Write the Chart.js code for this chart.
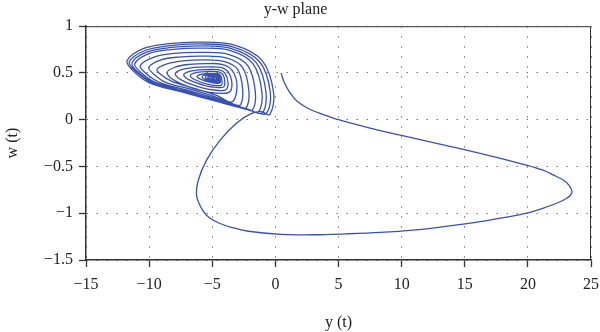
<!DOCTYPE html>
<html>
<head>
<meta charset="utf-8">
<script src="https://cdn.jsdelivr.net/npm/chart.js@4.4.1/dist/chart.umd.min.js"></script>
<style>
  html, body { margin: 0; padding: 0; background: #fff; }
  #wrap { width: 600px; height: 332px; }
</style>
</head>
<body>
<div id="wrap"><canvas id="myChart" width="600" height="332"></canvas></div>
<script>
// axis ticks
const yTicks = [-15, -10, -5, 0, 5, 10, 15, 20, 25];
const wTicks = [-1.5, -1, -0.5, 0, 0.5, 1];

// transient part of the trajectory
const transY = [0.45, 0.7, 1.1, 1.7, 2.6, 3.8, 5.0, 7.5, 9.9, 12.5, 15.15, 17.6, 19.9, 21.2, 22.0, 22.8, 23.25, 23.5, 23.35, 23.07, 22.5, 21.75, 19.9, 16.2, 13.5, 10.93, 8.3, 5.65, 3.0, 0.5, -2.27, -3.5, -4.39, -5.2, -5.71, -6.23, -6.1, -5.44, -4.39, -3.06, -1.88, -1.1];
const transW = [0.50, 0.40, 0.30, 0.20, 0.12, 0.055, 0.0, -0.09, -0.165, -0.245, -0.325, -0.405, -0.485, -0.54, -0.59, -0.645, -0.70, -0.77, -0.81, -0.84, -0.88, -0.92, -1.0, -1.09, -1.14, -1.18, -1.205, -1.22, -1.23, -1.225, -1.19, -1.15, -1.11, -1.05, -0.98, -0.82, -0.645, -0.43, -0.22, -0.035, 0.067, 0.085];

// spiral towards the focus, loop by loop
const spiralY = [
  -0.45, -0.13, -1.03, -3.29, -6.0, -8.63, -10.47, -11.75, -11.25, -9.98, -7.49, -4.65, -1.98,
  -0.74, -0.40, -1.25, -3.38, -5.97, -8.53, -10.32, -11.57, -11.09, -9.84, -7.42, -4.65, -2.14,
  -1.05, -0.74, -1.52, -3.48, -5.93, -8.41, -10.15, -11.36, -10.89, -9.68, -7.33, -4.65, -2.34,
  -1.35, -1.06, -1.78, -3.57, -5.88, -8.28, -9.97, -11.14, -10.69, -9.52, -7.25, -4.65, -2.53,
  -1.83, -1.59, -2.20, -3.73, -5.80, -8.04, -9.61, -10.70, -10.28, -9.19, -7.07, -4.65, -2.84,
  -2.30, -2.10, -2.61, -3.89, -5.67, -7.66, -9.06, -10.03, -9.65, -8.69, -6.80, -4.65, -3.15,
  -2.75, -2.59, -3.00, -4.03, -5.55, -7.30, -8.53, -9.38, -9.05, -8.20, -6.54, -4.65, -3.43,
  -3.04, -3.44, -4.25, -5.44, -6.81, -7.99, -8.58, -7.79, -6.03, -4.65, -3.68,
  -3.44, -3.74, -4.35, -5.31, -6.45, -7.44, -7.93, -7.27, -5.80, -4.65, -3.92,
  -3.75, -3.98, -4.43, -5.17, -6.09, -6.87, -7.26, -6.74, -5.56, -4.65, -4.11,
  -4.00, -4.16, -4.49, -5.07, -5.80, -6.43, -6.74, -6.32, -5.38, -4.65, -4.26,
  -4.23, -4.34, -4.55, -4.96, -5.50, -5.97, -6.20, -5.89, -5.19, -4.65, -4.40,
  -4.35, -4.43, -4.58, -4.90, -5.30, -5.65, -5.82, -5.58, -5.05, -4.65, -4.47,
  -4.45, -4.52, -4.63, -4.86, -5.18, -5.45, -5.55, -5.36, -4.96, -4.66, -4.52,
  -4.52, -4.58, -4.68, -4.86, -5.10, -5.30, -5.34, -5.18, -4.90, -4.67, -4.56,
  -4.56, -4.64, -4.82, -5.02, -5.16, -5.14, -4.95, -4.72, -4.60,
  -4.60, -4.67, -4.84, -5.00, -5.02, -4.90, -4.72, -4.63,
  -4.64, -4.72, -4.88, -4.93, -4.84, -4.70, -4.66
];
const spiralW = [
  0.055, 0.28, 0.63, 0.80, 0.83, 0.81, 0.76, 0.63, 0.52, 0.395, 0.30, 0.195, 0.10,
  0.065, 0.29, 0.62, 0.78, 0.81, 0.79, 0.74, 0.62, 0.52, 0.40, 0.305, 0.20, 0.11,
  0.07, 0.29, 0.61, 0.76, 0.79, 0.77, 0.725, 0.61, 0.51, 0.40, 0.31, 0.205, 0.12,
  0.085, 0.29, 0.60, 0.74, 0.765, 0.75, 0.71, 0.60, 0.51, 0.40, 0.31, 0.212, 0.126,
  0.10, 0.30, 0.58, 0.70, 0.72, 0.71, 0.67, 0.58, 0.50, 0.40, 0.32, 0.223, 0.14,
  0.13, 0.31, 0.56, 0.66, 0.68, 0.67, 0.64, 0.56, 0.49, 0.40, 0.33, 0.24, 0.16,
  0.16, 0.325, 0.54, 0.62, 0.64, 0.63, 0.60, 0.54, 0.48, 0.41, 0.34, 0.26, 0.19,
  0.365, 0.53, 0.592, 0.60, 0.592, 0.561, 0.499, 0.405, 0.317, 0.285, 0.293,
  0.38, 0.511, 0.559, 0.565, 0.559, 0.535, 0.487, 0.412, 0.341, 0.315, 0.321,
  0.395, 0.496, 0.532, 0.537, 0.532, 0.514, 0.477, 0.42, 0.365, 0.345, 0.35,
  0.405, 0.484, 0.512, 0.516, 0.512, 0.498, 0.47, 0.425, 0.381, 0.365, 0.369,
  0.417, 0.472, 0.492, 0.494, 0.492, 0.482, 0.462, 0.431, 0.401, 0.39, 0.393,
  0.420, 0.465, 0.482, 0.486, 0.484, 0.476, 0.458, 0.432, 0.408, 0.40, 0.402,
  0.425, 0.460, 0.475, 0.479, 0.477, 0.469, 0.455, 0.434, 0.414, 0.408, 0.41,
  0.428, 0.457, 0.469, 0.472, 0.470, 0.462, 0.451, 0.435, 0.419, 0.414, 0.416,
  0.432, 0.458, 0.466, 0.466, 0.458, 0.444, 0.428, 0.421, 0.423,
  0.434, 0.455, 0.462, 0.461, 0.451, 0.437, 0.428, 0.428,
  0.436, 0.452, 0.456, 0.449, 0.437, 0.432, 0.438
];

const pts = [];
transY.forEach((v, i) => pts.push({x: v, y: transW[i]}));
spiralY.forEach((v, i) => pts.push({x: v, y: spiralW[i]}));

const serif = "'Liberation Serif', 'DejaVu Serif', serif";
const fmt = v => String(v).replace('-', '\u2212');

// top and right edges of the box
const frame = {
  id: 'frame',
  afterDraw(chart) {
    const {ctx, chartArea: a} = chart;
    ctx.save();
    ctx.strokeStyle = '#333';
    ctx.lineWidth = 1;
    ctx.beginPath();
    ctx.moveTo(a.left, a.top + 0.5);
    ctx.lineTo(a.right - 0.5, a.top + 0.5);
    ctx.lineTo(a.right - 0.5, a.bottom);
    ctx.stroke();
    ctx.restore();
  }
};

const config = {
  type: 'scatter',
  data: {
    datasets: [{
      data: pts,
      showLine: true,
      borderColor: '#3a51b0',
      borderWidth: 1.3,
      pointRadius: 0,
      tension: 0.35,
      fill: false
    }]
  },
  options: {
    responsive: false,
    animation: false,
    layout: {padding: {left: 0, right: 9, top: 0, bottom: 0}},
    plugins: {
      legend: {display: false},
      tooltip: {enabled: false},
      title: {
        display: true,
        text: 'y-w plane',
        color: '#222',
        font: {family: serif, size: 16, weight: 'normal'},
        padding: {top: 0, bottom: 7}
      }
    },
    scales: {
      x: {
        type: 'linear',
        min: -15, max: 25,
        afterBuildTicks: s => { s.ticks = yTicks.map(v => ({value: v})); },
        afterFit: s => { s.height = 72; s.paddingLeft = 0; s.paddingRight = 0; },
        ticks: {color: '#222', font: {family: serif, size: 16}, padding: 8, maxRotation: 0, callback: fmt},
        grid: {color: '#777', tickColor: '#333', tickLength: 7, tickWidth: 1.3, tickBorderDash: []},
        border: {color: '#333', width: 1.5, dash: [1.5, 8.5]},
        title: {display: true, text: 'y (t)', color: '#222', font: {family: serif, size: 16}, padding: {top: 0, bottom: 0}}
      },
      y: {
        type: 'linear',
        min: -1.5, max: 1,
        afterBuildTicks: s => { s.ticks = wTicks.map(v => ({value: v})); },
        afterFit: s => { s.width = 86; },
        ticks: {color: '#222', font: {family: serif, size: 16}, padding: 6, callback: fmt},
        grid: {color: '#777', tickColor: '#333', tickLength: 7, tickWidth: 1.3, tickBorderDash: []},
        border: {color: '#333', width: 1.5, dash: [1.5, 8.5]},
        title: {display: true, text: 'w (t)', color: '#222', font: {family: serif, size: 16}, padding: {top: 3, bottom: 0}}
      }
    }
  },
  plugins: [frame]
};

const myChart = new Chart(document.getElementById('myChart'), config);
</script>
</body>
</html>
